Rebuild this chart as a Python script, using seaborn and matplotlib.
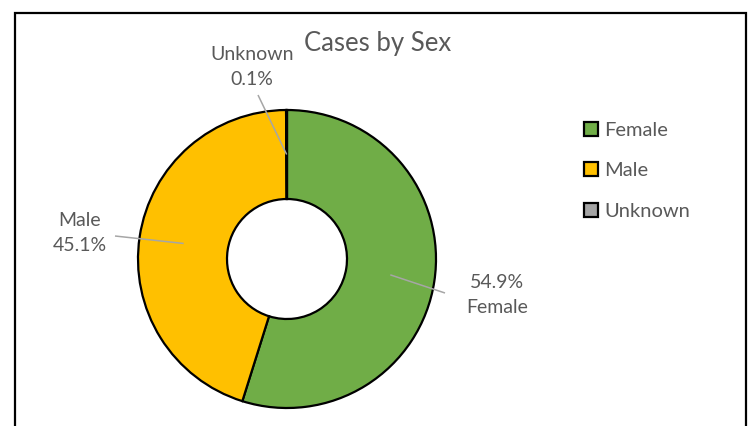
import numpy as np
import matplotlib
matplotlib.use("Agg")
import matplotlib.pyplot as plt
from matplotlib.patches import Rectangle
import seaborn as sns

# Data
categories = ["Female", "Male", "Unknown"]
shares = [54.9, 45.1, 0.1]
colors = ["#70AD47", "#FFC000", "#A5A5A5"]

sns.set_theme(style="white")
plt.rcParams["font.family"] = ["Lato", "DejaVu Sans"]
text_color = "#595959"

fig = plt.figure(figsize=(7.48, 4.26), dpi=100)
ax = fig.add_axes([0, 0, 1, 1])

# pixel-like coordinates, origin bottom left
cx, cy, r_out, ring = 287, 167, 149, 89
wedges, _ = ax.pie(shares, colors=colors, startangle=90, counterclock=False,
                   center=(cx, cy), radius=r_out,
                   wedgeprops=dict(width=ring, edgecolor="black", linewidth=1.6))
ax.set_xlim(0, 748)
ax.set_ylim(0, 426)
ax.set_aspect("equal")
ax.axis("off")

# data labels with leader lines
label_text = {"Female": "54.9%\nFemale", "Male": "Male\n45.1%", "Unknown": "Unknown\n0.1%"}
line_end = {"Female": (158, -34), "Male": (-172, 23), "Unknown": (-29, 164)}
text_pos = {"Female": (210, -36), "Male": (-207, 26), "Unknown": (-35, 192)}
r_mid = r_out - ring / 2
for w, name in zip(wedges, categories):
    ang = np.deg2rad((w.theta1 + w.theta2) / 2)
    ax_, ay_ = cx + r_mid * np.cos(ang), cy + r_mid * np.sin(ang)
    ex, ey = line_end[name]
    ax.plot([ax_, cx + ex], [ay_, cy + ey], color="#A6A6A6", lw=1.1,
            solid_capstyle="butt")
    tx, ty = text_pos[name]
    ax.text(cx + tx, cy + ty, label_text[name], ha="center", va="center",
            fontsize=14, color=text_color, linespacing=1.6)

ax.text(378, 426 - 44, "Cases by Sex", ha="center", va="center",
        fontsize=18.5, color=text_color)

leg = ax.legend(wedges, categories, loc="upper left",
                bbox_to_anchor=(566 / 748, 1 - 104 / 426),
                frameon=False, fontsize=14.5, handlelength=0.7,
                handleheight=0.7, handletextpad=0.3, labelspacing=1.15)
for t in leg.get_texts():
    t.set_color(text_color)

# outer frame (bottom edge cut off)
fig.patches.append(Rectangle((15 / 748, -0.05), 731 / 748, 1.05 - 13 / 426,
                             transform=fig.transFigure, fill=False,
                             edgecolor="black", linewidth=1.6))

fig.savefig("out.png", dpi=100)
